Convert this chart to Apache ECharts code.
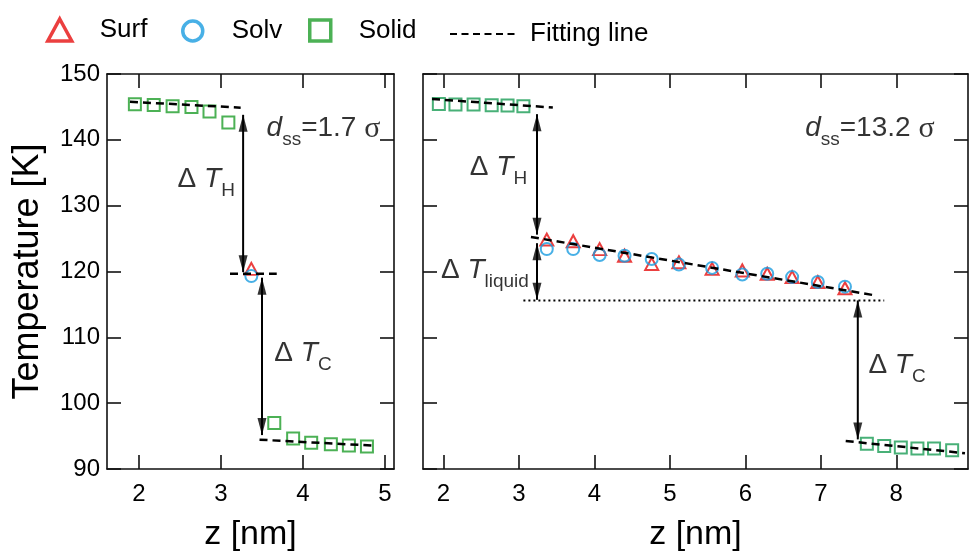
<!DOCTYPE html>
<html>
<head>
<meta charset="utf-8">
<script src="https://cdn.jsdelivr.net/npm/echarts@6/dist/echarts.min.js"></script>
<style>
  html, body { margin: 0; padding: 0; background: #fff; }
  #chart { width: 969px; height: 557px; }
</style>
</head>
<body>
<div id="chart"></div>
<script>
// ---------- data ----------
const zTicksLeft = [2, 3, 4, 5];
const zTicksRight = [2, 3, 4, 5, 6, 7, 8];

// d_ss = 1.7 sigma
const solidLeftZ = [1.95, 2.18, 2.41, 2.64, 2.86, 3.09, 3.65, 3.88, 4.10, 4.34, 4.56, 4.78];
const solidLeftT = [145.4, 145.3, 145.1, 145.0, 144.3, 142.65, 96.98, 94.65, 94.0, 93.76, 93.56, 93.42];
const surfLeftZ = [3.37];
const surfLeftT = [120.4];
const solvLeftZ = [3.37];
const solvLeftT = [119.3];

const fitLeftHotZ = [1.89, 3.24];
const fitLeftHotT = [145.78, 144.89];
const fitLeftLiqZ = [3.11, 3.68];
const fitLeftLiqT = [119.65, 119.65];
const fitLeftColdZ = [3.47, 4.85];
const fitLeftColdT = [94.45, 93.56];

// d_ss = 13.2 sigma
const solidRightZ = [1.94, 2.16, 2.40, 2.64, 2.85, 3.06, 7.61, 7.84, 8.06, 8.28, 8.50, 8.74];
const solidRightT = [145.45, 145.35, 145.35, 145.25, 145.2, 145.1, 93.85, 93.5, 93.25, 93.1, 93.1, 92.85];
const liquidRightZ = [3.37, 3.72, 4.07, 4.40, 4.76, 5.12, 5.56, 5.96, 6.29, 6.62, 6.96, 7.32];
const surfRightT = [124.85, 124.6, 123.4, 122.4, 121.15, 121.4, 120.4, 120.15, 119.65, 119.15, 118.4, 117.45];
const solvRightT = [123.4, 123.4, 122.5, 122.4, 121.9, 121.05, 120.55, 119.55, 119.65, 119.15, 118.4, 117.7];

const fitRightHotZ = [1.85, 3.45];
const fitRightHotT = [146.2, 144.9];
const fitRightLiqZ = [3.16, 7.68];
const fitRightLiqT = [125.25, 116.45];
const fitRightColdZ = [7.33, 8.91];
const fitRightColdT = [94.25, 92.4];
const liqEndRightZ = [3.06, 7.84];
const liqEndRightT = [115.6, 115.6];

// double arrows: [z, T_upper_tip, T_lower_tip]
const arrowLeftH = [3.27, 143.8, 119.9];
const arrowLeftC = [3.50, 119.06, 95.15];
const arrowRightH = [3.24, 143.9, 125.6];
const arrowRightLiq = [3.24, 124.3, 115.7];
const arrowRightC = [7.49, 115.6, 94.5];

// annotation anchors: [z, T]
const labelLeftH = [2.82, 133.8];
const labelLeftC = [4.0, 107.4];
const labelLeftD = [4.25, 141.6];
const labelRightH = [2.73, 135.7];
const labelRightLiq = [2.55, 120.1];
const labelRightC = [8.01, 105.6];
const labelRightD = [7.65, 141.6];

// ---------- styling ----------
const FONT = '"Liberation Sans", Arial, Helvetica, sans-serif';
const AXIS = '#111';
const RED = '#e60f0f';
const BLUE = '#1a9ce0';
const GREEN_L = '#1f9e2a';
const GREEN_R = '#1a9c55';

const pairs = (zs, ts) => zs.map((z, i) => [z, ts[i]]);

function xAxisDef(gridIndex, min, max, ticks, bottom) {
  return {
    type: 'value', gridIndex, min, max,
    position: bottom ? 'bottom' : 'top',
    axisLine: { show: true, onZero: false, lineStyle: { color: AXIS, width: 1.6 } },
    axisTick: { show: true, inside: true, length: 14, customValues: ticks, lineStyle: { color: AXIS, width: 1.6 } },
    axisLabel: { show: bottom, customValues: ticks, fontSize: 24, color: '#000', margin: 13, fontFamily: FONT },
    splitLine: { show: false },
    name: bottom ? 'z [nm]' : '',
    nameLocation: 'middle', nameGap: 49,
    nameTextStyle: { fontSize: 34, color: '#000', fontFamily: FONT }
  };
}
function yAxisDef(gridIndex, left, labels) {
  return {
    type: 'value', gridIndex, min: 90, max: 150, interval: 10,
    position: left ? 'left' : 'right',
    axisLine: { show: true, onZero: false, lineStyle: { color: AXIS, width: 1.6 } },
    axisTick: { show: true, inside: true, length: 14, lineStyle: { color: AXIS, width: 1.6 } },
    axisLabel: { show: labels, fontSize: 24, color: '#000', margin: 7, fontFamily: FONT },
    splitLine: { show: false },
    name: labels ? 'Temperature [K]' : '',
    nameLocation: 'middle', nameGap: 61,
    nameTextStyle: { fontSize: 36, color: '#000', fontFamily: FONT }
  };
}

function markerSeries(name, symbol, size, color, xi, yi, data) {
  return {
    type: 'scatter', name, xAxisIndex: xi, yAxisIndex: yi, symbol, symbolSize: size,
    itemStyle: { color: 'rgba(0,0,0,0)', borderColor: color, borderWidth: 2 },
    data, z: 3, silent: true
  };
}
function fitSeries(name, xi, yi, zs, ts, dash) {
  return {
    type: 'line', name, xAxisIndex: xi, yAxisIndex: yi, symbol: 'none',
    lineStyle: { color: '#000', width: dash === 'dot' ? 2 : 2.5, type: dash === 'dot' ? [2, 3] : [8, 5] },
    data: pairs(zs, ts), z: 5, silent: true
  };
}
// arrow shafts drawn as plain segments, heads as rotated triangles at the tips
function arrowShafts(xi, yi, arrows) {
  return arrows.map(a => ({
    type: 'line', name: 'arrow', xAxisIndex: xi, yAxisIndex: yi, symbol: 'none',
    lineStyle: { color: '#000', width: 2, type: 'solid' },
    data: [[a[0], a[1]], [a[0], a[2]]], z: 6, silent: true
  }));
}
function arrowHeads(xi, yi, arrows) {
  const items = [];
  arrows.forEach(a => {
    items.push({ value: [a[0], a[1]], symbolRotate: 0, symbolOffset: [0, 8.5] });
    items.push({ value: [a[0], a[2]], symbolRotate: 180, symbolOffset: [0, -8.5] });
  });
  return {
    type: 'scatter', name: 'arrow head', xAxisIndex: xi, yAxisIndex: yi,
    symbol: 'triangle', symbolSize: [9, 17], itemStyle: { color: '#000' },
    data: items, z: 7, silent: true
  };
}

const rich = {
  n: { fontSize: 28, lineHeight: 30, verticalAlign: 'top', fontFamily: FONT, color: '#000' },
  i: { fontSize: 28, lineHeight: 30, verticalAlign: 'top', fontFamily: FONT, fontStyle: 'italic', color: '#000' },
  s: { fontSize: 19, lineHeight: 21, verticalAlign: 'top', padding: [16, 0, 0, 0], fontFamily: FONT, color: '#000' },
  g: { fontSize: 30, lineHeight: 30, verticalAlign: 'top', fontFamily: '"Liberation Serif", serif', color: '#000' }
};
function labelItem(pos, text) {
  return { value: pos, label: { show: true, position: 'inside', formatter: text, rich } };
}
function labelSeries(xi, yi, items) {
  return {
    type: 'scatter', name: 'notes', xAxisIndex: xi, yAxisIndex: yi, symbolSize: 0,
    data: items, silent: true, z: 8
  };
}

const legendBase = {
  orient: 'horizontal', padding: 0, selectedMode: false, itemGap: 0,
  itemStyle: { borderWidth: 3.5 }
};
const legendText = pad => ({ fontSize: 26, color: '#000', fontFamily: FONT, padding: [0, 0, 0, pad] });

const option = {
  backgroundColor: '#fff',
  animation: false,
  legend: [
    Object.assign({}, legendBase, { data: ['Surf'], left: 46, top: 17, itemWidth: 24, itemHeight: 22, textStyle: legendText(23) }),
    Object.assign({}, legendBase, { data: ['Solv'], left: 181, top: 18, itemWidth: 20, itemHeight: 20, textStyle: legendText(24) }),
    Object.assign({}, legendBase, { data: ['Solid'], left: 308, top: 17.5, itemWidth: 21, itemHeight: 21, textStyle: legendText(23) }),
    Object.assign({}, legendBase, {
      data: ['Fitting line'], left: 449, top: 21, itemWidth: 69, itemHeight: 14,
      lineStyle: { width: 2, type: [7, 4.5] },
      itemStyle: { opacity: 0 },
      textStyle: legendText(6)
    })
  ],
  grid: [
    { left: 107, top: 74, width: 287, height: 404 },
    { left: 423, top: 74, width: 545, height: 404 }
  ],
  xAxis: [
    xAxisDef(0, 1.61, 5.11, zTicksLeft, true),
    xAxisDef(0, 1.61, 5.11, zTicksLeft, false),
    xAxisDef(1, 1.73, 8.95, zTicksRight, true),
    xAxisDef(1, 1.73, 8.95, zTicksRight, false)
  ],
  yAxis: [
    yAxisDef(0, true, true),
    yAxisDef(0, false, false),
    yAxisDef(1, true, false),
    yAxisDef(1, false, false)
  ],
  series: [
    markerSeries('Solid', 'rect', 12, GREEN_L, 0, 0, pairs(solidLeftZ, solidLeftT)),
    markerSeries('Surf', 'triangle', [13, 12], RED, 0, 0, pairs(surfLeftZ, surfLeftT)),
    markerSeries('Solv', 'circle', 12, BLUE, 0, 0, pairs(solvLeftZ, solvLeftT)),
    markerSeries('Solid', 'rect', 12, GREEN_R, 2, 2, pairs(solidRightZ, solidRightT)),
    markerSeries('Surf', 'triangle', [13, 12], RED, 2, 2, pairs(liquidRightZ, surfRightT)),
    markerSeries('Solv', 'circle', 12, BLUE, 2, 2, pairs(liquidRightZ, solvRightT)),

    fitSeries('Fitting line', 0, 0, fitLeftHotZ, fitLeftHotT),
    fitSeries('Fitting line', 0, 0, fitLeftLiqZ, fitLeftLiqT),
    fitSeries('Fitting line', 0, 0, fitLeftColdZ, fitLeftColdT),
    fitSeries('Fitting line', 2, 2, fitRightHotZ, fitRightHotT),
    fitSeries('Fitting line', 2, 2, fitRightLiqZ, fitRightLiqT),
    fitSeries('Fitting line', 2, 2, fitRightColdZ, fitRightColdT),
    fitSeries('liquid end', 2, 2, liqEndRightZ, liqEndRightT, 'dot'),

    ...arrowShafts(0, 0, [arrowLeftH, arrowLeftC]),
    ...arrowShafts(2, 2, [arrowRightH, arrowRightLiq, arrowRightC]),
    arrowHeads(0, 0, [arrowLeftH, arrowLeftC]),
    arrowHeads(2, 2, [arrowRightH, arrowRightLiq, arrowRightC]),

    labelSeries(0, 0, [
      labelItem(labelLeftH, '{n|Δ }{i|T}{s|H}'),
      labelItem(labelLeftC, '{n|Δ }{i|T}{s|C}'),
      labelItem(labelLeftD, '{i|d}{s|ss}{n|=1.7 }{g|σ}')
    ]),
    labelSeries(2, 2, [
      labelItem(labelRightH, '{n|Δ }{i|T}{s|H}'),
      labelItem(labelRightLiq, '{n|Δ }{i|T}{s|liquid}'),
      labelItem(labelRightC, '{n|Δ }{i|T}{s|C}'),
      labelItem(labelRightD, '{i|d}{s|ss}{n|=13.2 }{g|σ}')
    ])
  ]
};

const chart = echarts.init(document.getElementById('chart'), null, { renderer: 'canvas' });
chart.setOption(option);
</script>
</body>
</html>
